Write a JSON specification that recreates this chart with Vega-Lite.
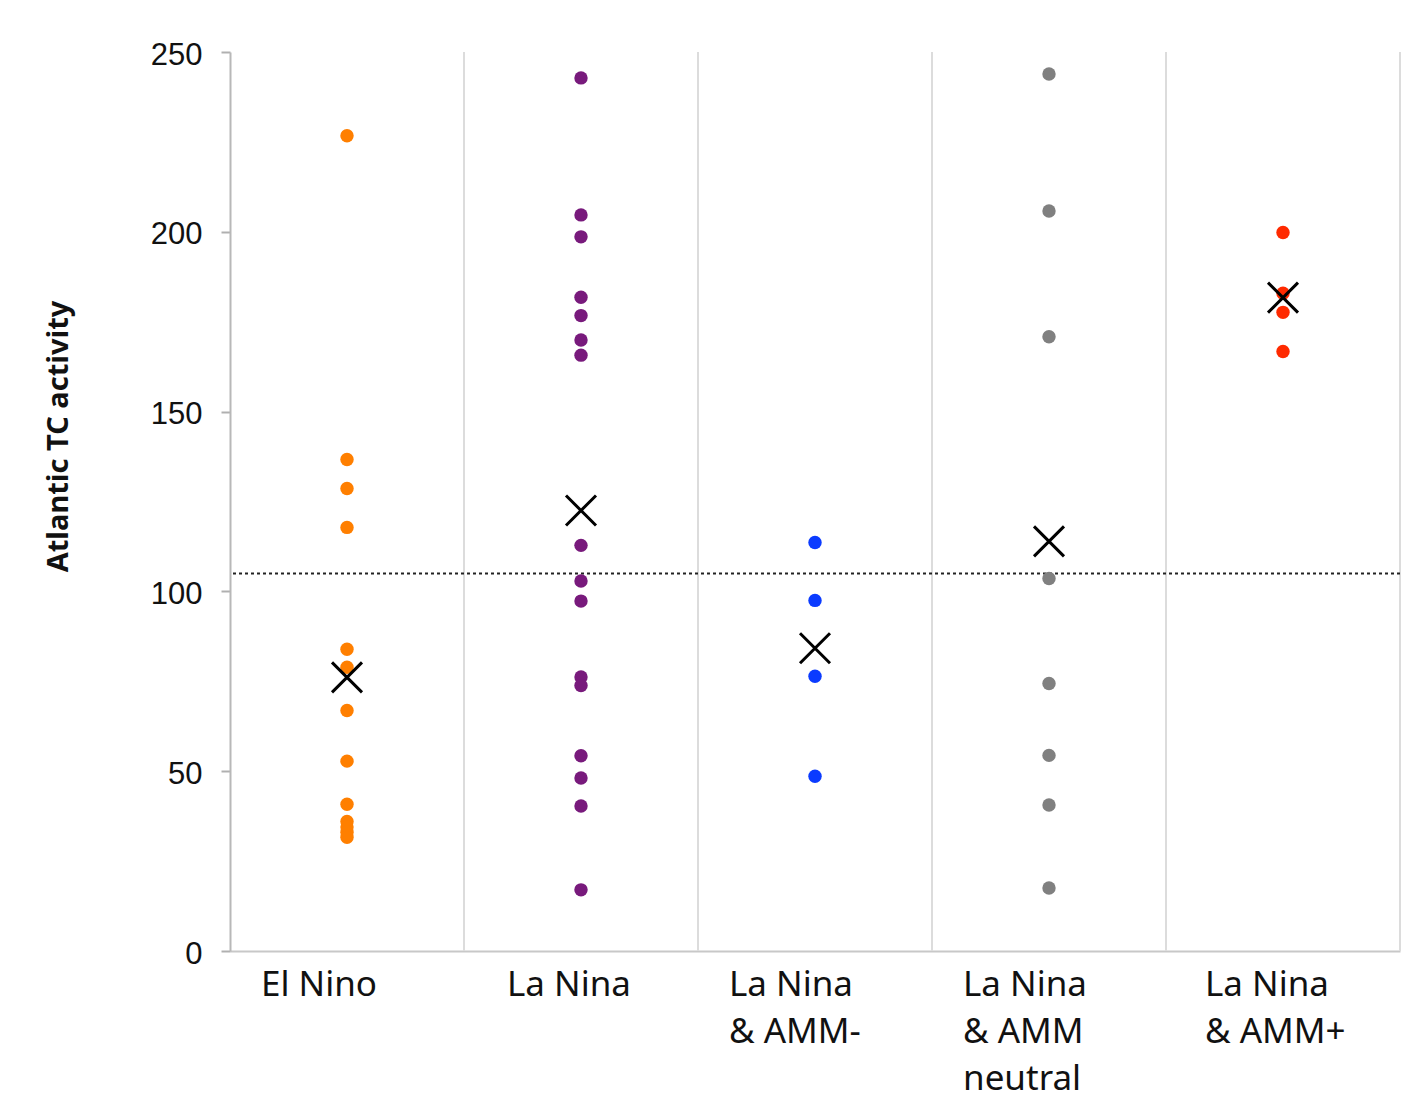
{
  "$schema": "https://vega.github.io/schema/vega-lite/v6.json",
  "autosize": "none",
  "width": 1170,
  "height": 899,
  "padding": {"left": 230, "top": 52, "right": 24, "bottom": 150},
  "background": "white",
  "config": {"view": {"stroke": null}},
  "datasets": {
    "pts": [
      {"group": "El Nino", "value": 226.7},
      {"group": "El Nino", "value": 136.7},
      {"group": "El Nino", "value": 128.6},
      {"group": "El Nino", "value": 117.8},
      {"group": "El Nino", "value": 83.9},
      {"group": "El Nino", "value": 78.9},
      {"group": "El Nino", "value": 66.9},
      {"group": "El Nino", "value": 52.8},
      {"group": "El Nino", "value": 40.8},
      {"group": "El Nino", "value": 36.0},
      {"group": "El Nino", "value": 34.5},
      {"group": "El Nino", "value": 33.0},
      {"group": "El Nino", "value": 31.6},
      {"group": "La Nina", "value": 242.8},
      {"group": "La Nina", "value": 204.7},
      {"group": "La Nina", "value": 198.6},
      {"group": "La Nina", "value": 181.8},
      {"group": "La Nina", "value": 176.7},
      {"group": "La Nina", "value": 169.9},
      {"group": "La Nina", "value": 165.7},
      {"group": "La Nina", "value": 112.8},
      {"group": "La Nina", "value": 102.9},
      {"group": "La Nina", "value": 97.3},
      {"group": "La Nina", "value": 76.2},
      {"group": "La Nina", "value": 73.8},
      {"group": "La Nina", "value": 54.3},
      {"group": "La Nina", "value": 48.1},
      {"group": "La Nina", "value": 40.3},
      {"group": "La Nina", "value": 17.0},
      {"group": "La Nina|& AMM-", "value": 113.6},
      {"group": "La Nina|& AMM-", "value": 97.5},
      {"group": "La Nina|& AMM-", "value": 76.4},
      {"group": "La Nina|& AMM-", "value": 48.6},
      {"group": "La Nina|& AMM|neutral", "value": 243.9},
      {"group": "La Nina|& AMM|neutral", "value": 205.8},
      {"group": "La Nina|& AMM|neutral", "value": 170.8},
      {"group": "La Nina|& AMM|neutral", "value": 103.6},
      {"group": "La Nina|& AMM|neutral", "value": 74.4},
      {"group": "La Nina|& AMM|neutral", "value": 54.4},
      {"group": "La Nina|& AMM|neutral", "value": 40.6},
      {"group": "La Nina|& AMM|neutral", "value": 17.5},
      {"group": "La Nina|& AMM+", "value": 199.8},
      {"group": "La Nina|& AMM+", "value": 182.9},
      {"group": "La Nina|& AMM+", "value": 177.6},
      {"group": "La Nina|& AMM+", "value": 166.7}
    ],
    "means": [
      {"group": "El Nino", "value": 76.1},
      {"group": "La Nina", "value": 122.5},
      {"group": "La Nina|& AMM-", "value": 84.2},
      {"group": "La Nina|& AMM|neutral", "value": 113.9},
      {"group": "La Nina|& AMM+", "value": 181.7}
    ],
    "ref": [{"value": 105}]
  },
  "encoding": {
    "x": {
      "field": "group", "type": "nominal",
      "scale": {
        "domain": ["El Nino", "La Nina", "La Nina|& AMM-", "La Nina|& AMM|neutral", "La Nina|& AMM+"],
        "paddingInner": 0, "paddingOuter": 0
      },
      "axis": {
        "title": null,
        "labelExpr": "split(datum.label, '|')",
        "labelAngle": 0,
        "labelFont": "Noto Sans",
        "labelFontSize": 35,
        "labelColor": "#111111",
        "labelLineHeight": 47,
        "labelAlign": "left",
        "labelBaseline": "top",
        "labelOffset": {
          "condition": [
            {"test": "datum.value == 'La Nina'", "value": -74},
            {"test": "datum.value == 'La Nina|& AMM+'", "value": -78}
          ],
          "value": -86
        },
        "labelPadding": 16,
        "ticks": false,
        "domainColor": "#c8c8c8",
        "domainWidth": 2,
        "grid": false
      }
    }
  },
  "layer": [
    {
      "data": {"name": "means"},
      "mark": {"type": "rule", "color": "#dcdcdc", "strokeWidth": 2},
      "encoding": {
        "x": {"field": "group", "type": "nominal", "bandPosition": 1}
      }
    },
    {
      "data": {"name": "ref"},
      "mark": {"type": "rule", "color": "#222222", "strokeWidth": 2, "strokeDash": [3, 3]},
      "encoding": {
        "x": null,
        "y": {"field": "value", "type": "quantitative", "scale": {"domain": [0, 250], "nice": false}}
      }
    },
    {
      "data": {"name": "pts"},
      "mark": {"type": "circle", "size": 180, "opacity": 1},
      "encoding": {
        "y": {
          "field": "value", "type": "quantitative",
          "scale": {"domain": [0, 250], "nice": false},
          "axis": {
            "title": "Atlantic TC activity",
            "titleFont": "Noto Sans",
            "titleFontWeight": "bold",
            "titleFontSize": 29,
            "titleColor": "#111111",
            "titleAngle": -90,
            "titleX": -172,
            "titleY": 384,
            "titleAlign": "center",
            "titleBaseline": "middle",
            "values": [0, 50, 100, 150, 200, 250],
            "labelFont": "Liberation Sans",
            "labelFontSize": 31,
            "labelColor": "#111111",
            "labelPadding": 19,
            "labelOffset": 3,
            "tickSize": 9,
            "tickColor": "#b0b0b0",
            "tickWidth": 2,
            "domainColor": "#b8b8b8",
            "domainWidth": 2,
            "grid": false
          }
        },
        "color": {
          "field": "group", "type": "nominal",
          "scale": {
            "domain": ["El Nino", "La Nina", "La Nina|& AMM-", "La Nina|& AMM|neutral", "La Nina|& AMM+"],
            "range": ["#ff7f00", "#781a7c", "#0b3bff", "#808080", "#ff2a00"]
          },
          "legend": null
        }
      }
    },
    {
      "data": {"name": "means"},
      "mark": {"type": "point", "shape": "M-1,-1L1,1M-1,1L1,-1", "filled": false, "size": 900, "color": "black", "strokeWidth": 3, "opacity": 1},
      "encoding": {
        "y": {"field": "value", "type": "quantitative"}
      }
    }
  ]
}
